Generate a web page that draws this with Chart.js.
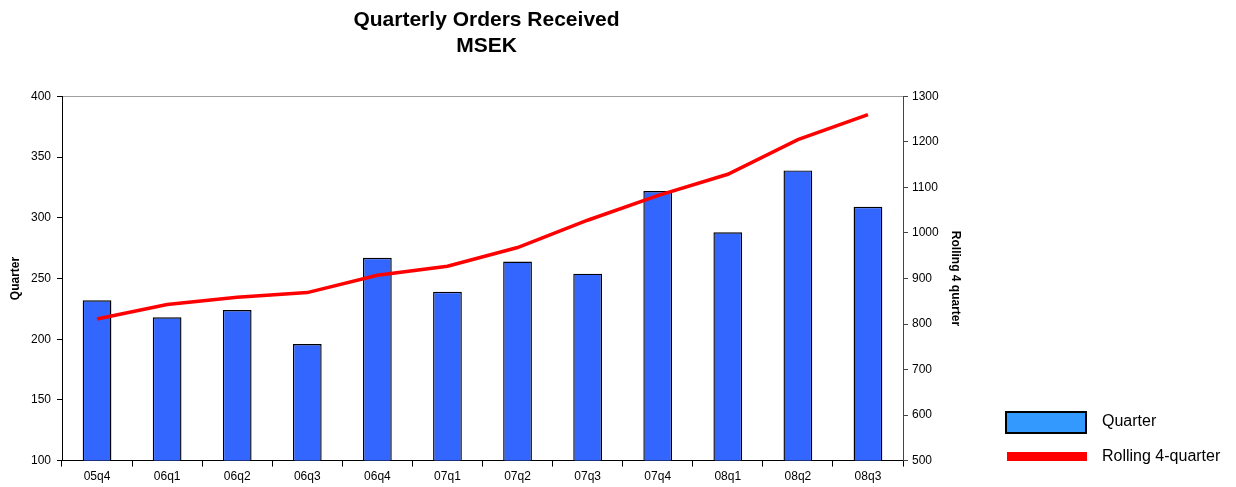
<!DOCTYPE html>
<html>
<head>
<meta charset="utf-8">
<script src="https://cdn.jsdelivr.net/npm/chart.js@4.4.1/dist/chart.umd.min.js"></script>
<style>
	html, body { margin: 0; padding: 0; background: #fff; }
	#wrap { position: relative; width: 1236px; height: 487px; }
	#legend { position: absolute; left: 1005px; top: 408px; font-family: "Liberation Sans", Arial, sans-serif; font-size: 16px; color: #000; }
	.row { position: relative; height: 36px; }
	.swatch { position: absolute; left: 0; }
	.lbl { position: absolute; left: 97px; white-space: nowrap; }
</style>
</head>
<body>
<div id="wrap">
	<canvas id="chart" width="1236" height="487"></canvas>
	<div id="legend">
		<div class="row">
			<div class="swatch" style="top:3px;width:78px;height:19px;background:#3399ff;border:2px solid #000;"></div>
			<div class="lbl" style="top:4px;">Quarter</div>
		</div>
		<div class="row">
			<div class="swatch" style="top:8px;left:2px;width:80px;height:9px;background:#ff0000;"></div>
			<div class="lbl" style="top:3px;">Rolling 4-quarter</div>
		</div>
	</div>
</div>
<script>
// Data
const quarters = ["05q4", "06q1", "06q2", "06q3", "06q4", "07q1", "07q2", "07q3", "07q4", "08q1", "08q2", "08q3"];
const quarterOrders = [232, 218, 224, 196, 267, 239, 264, 254, 322, 288, 339, 309];
const rolling4 = [811, 843, 859, 869, 907, 927, 968, 1028, 1082, 1129, 1205, 1260];

Chart.defaults.font.family = '"Liberation Sans", Arial, sans-serif';
Chart.defaults.color = "#000";

const ctx = document.getElementById("chart").getContext("2d");

new Chart(ctx, {
	type: "bar",
	data: {
		labels: quarters,
		datasets: [
			{
				type: "line",
				label: "Rolling 4-quarter",
				data: rolling4,
				borderColor: "#ff0000",
				backgroundColor: "#ff0000",
				borderWidth: 3.5,
				pointRadius: 0,
				tension: 0,
				yAxisID: "y2",
				order: 0,
			},
			{
				label: "Quarter",
				data: quarterOrders,
				backgroundColor: "#3366ff",
				borderColor: "#000",
				borderWidth: 1.4,
				borderSkipped: false,
				categoryPercentage: 0.82,
				barPercentage: 0.5,
				yAxisID: "y",
				order: 1,
			},
		],
	},
	options: {
		responsive: false,
		animation: false,
		layout: {
			padding: { left: 0, right: 263, top: 8, bottom: 0 },
		},
		plugins: {
			legend: { display: false },
			tooltip: { enabled: false },
			title: {
				display: true,
				text: ["Quarterly Orders Received", "MSEK"],
				font: { size: 21, weight: "bold" },
				lineHeight: 1.2,
				padding: { top: 0, bottom: 38 },
			},
		},
		scales: {
			x: {
				offset: true,
				grid: {
					offset: true,
					drawOnChartArea: false,
					color: "#000",
					tickLength: 6,
				},
				border: { color: "#000" },
				ticks: { font: { size: 12 }, padding: 3, maxRotation: 0 },
			},
			y: {
				position: "left",
				min: 100,
				max: 400,
				afterFit: (s) => { s.width = 62; },
				ticks: { stepSize: 50, font: { size: 12 }, padding: 6 },
				grid: {
					color: (c) => (c.tick && c.tick.value === 400 ? "#a0a0a0" : "transparent"),
					tickColor: "#000",
					tickLength: 5,
				},
				border: { color: "#000" },
				title: {
					display: true,
					text: "Quarter",
					font: { size: 12, weight: "bold" },
					padding: { top: 8, bottom: 0 },
				},
			},
			y2: {
				position: "right",
				min: 500,
				max: 1300,
				afterFit: (s) => { s.width = 70; },
				ticks: {
					stepSize: 100,
					font: { size: 12 },
					padding: 4,
					callback: (v) => String(v),
				},
				grid: {
					drawOnChartArea: false,
					color: "#444",
					tickLength: 5,
				},
				border: { color: "#444" },
				title: {
					display: true,
					text: "Rolling 4 quarter",
					font: { size: 12, weight: "bold" },
					padding: { top: 10, bottom: 0 },
				},
			},
		},
	},
});
</script>
</body>
</html>
